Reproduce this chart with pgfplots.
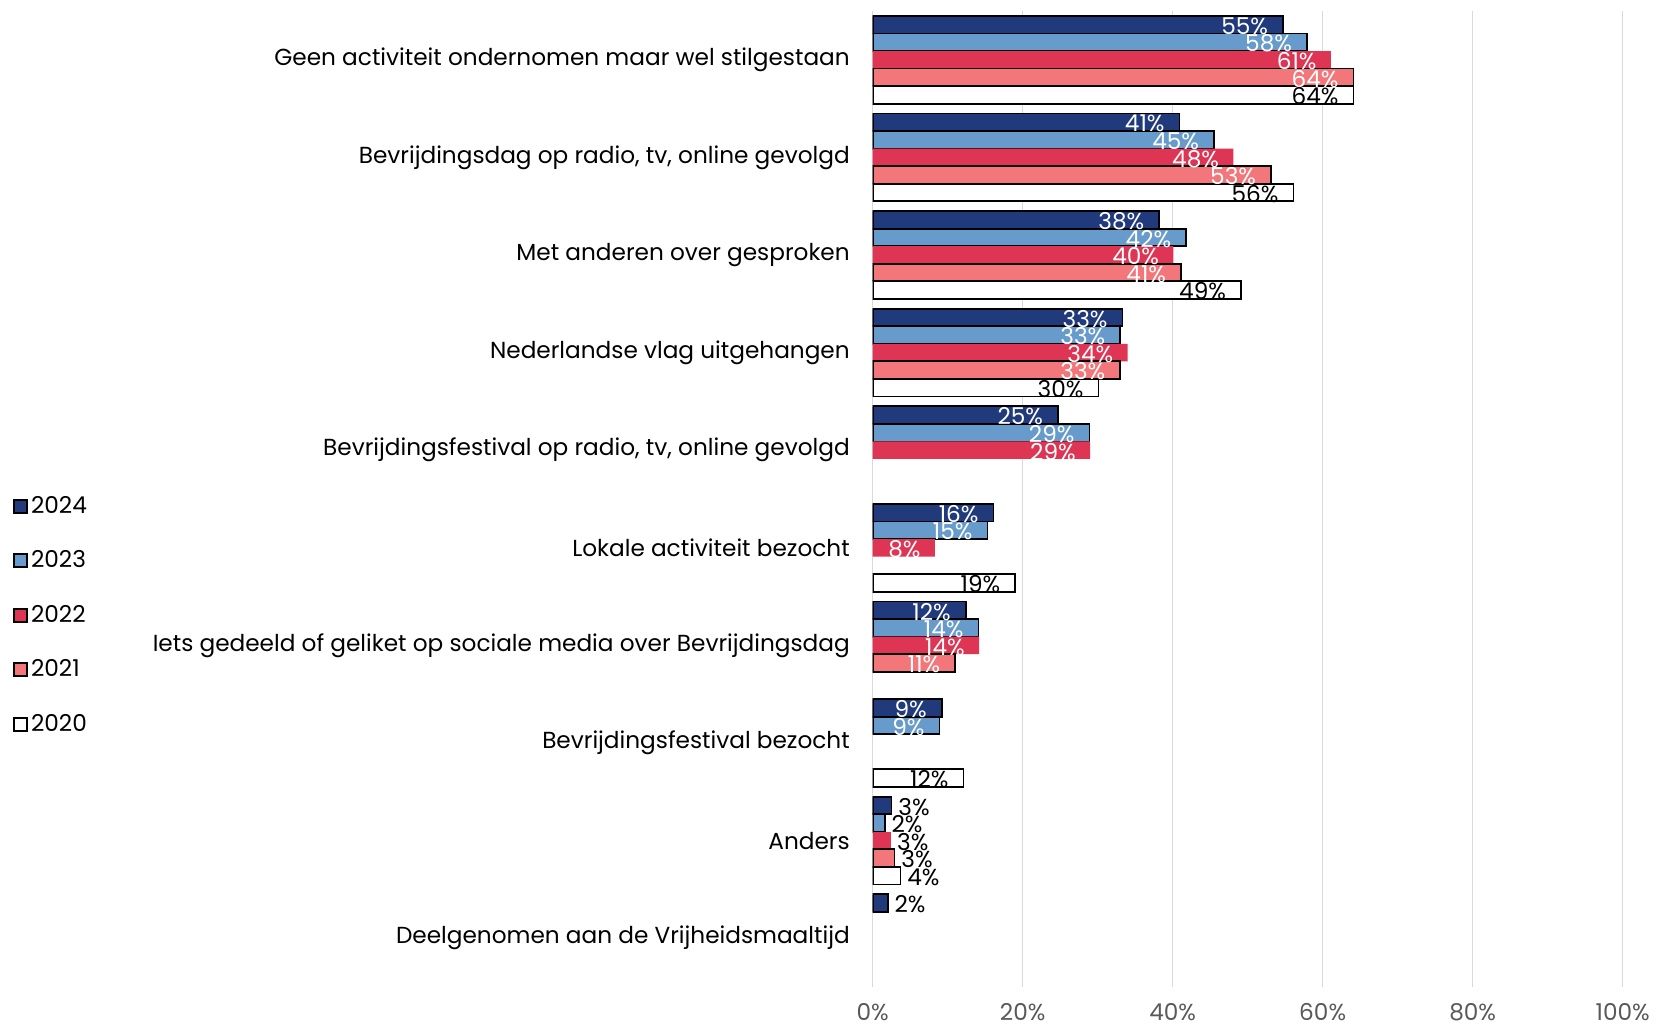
\documentclass[border=0pt]{standalone}
\usepackage{fontspec}
\setmainfont{Poppins}
\usepackage{pgfplots}
\pgfplotsset{compat=1.18}

\definecolor{c24}{RGB}{32,58,124}
\definecolor{c23}{RGB}{102,155,204}
\definecolor{c22}{RGB}{222,53,84}
\definecolor{c21}{RGB}{242,118,122}
\definecolor{gridgray}{RGB}{217,217,217}
\definecolor{tickgray}{RGB}{89,89,89}

\newcommand{\lblfont}{\fontsize{11.6}{11.6}\selectfont}

\pgfplotsset{
  s24/.style={fill=c24, draw=black, line width=0.9pt, bar shift=0.36},
  s23/.style={fill=c23, draw=black, line width=0.9pt, bar shift=0.18},
  s22/.style={fill=c22, draw=none, bar shift=0},
  s21/.style={fill=c21, draw=black, line width=0.9pt, bar shift=-0.18},
  s20/.style={fill=white, draw=black, line width=0.9pt, bar shift=-0.36},
  lin/.style={every node near coord/.append style={anchor=east, inner sep=0pt, xshift=-7pt, yshift=-0.7pt, text=#1}},
  lout/.style={every node near coord/.append style={anchor=west, inner sep=0pt, xshift=3pt, yshift=-0.7pt, text=black}},
}

\begin{document}
\begin{tikzpicture}
\begin{axis}[
  name=ax,
  scale only axis, width=375pt, height=488pt,
  xbar, bar width=0.18,
  xmin=0, xmax=100, ymin=-0.5, ymax=9.5,
  axis line style={draw=none},
  xtick={0,20,40,60,80,100},
  xticklabels={0\%,20\%,40\%,60\%,80\%,100\%},
  xmajorgrids, grid style={line width=0.75pt, gridgray},
  xtick style={draw=none}, ytick style={draw=none},
  xticklabel style={font=\lblfont, text=tickgray, yshift=-4.5pt},
  ytick={0,...,9},
  yticklabels={Deelgenomen aan de Vrijheidsmaaltijd, Anders, Bevrijdingsfestival bezocht,
    Iets gedeeld of geliket op sociale media over Bevrijdingsdag, Lokale activiteit bezocht,
    {Bevrijdingsfestival op radio, tv, online gevolgd}, Nederlandse vlag uitgehangen,
    Met anderen over gesproken, {Bevrijdingsdag op radio, tv, online gevolgd},
    Geen activiteit ondernomen maar wel stilgestaan},
  yticklabel style={font=\lblfont, anchor=east, inner sep=0pt, xshift=-7pt},
  point meta=explicit,
  /pgf/number format/assume math mode=true,
  nodes near coords={\pgfmathprintnumber{\pgfplotspointmeta}\%},
  every node near coord/.append style={font=\lblfont},
  legend style={draw=none, fill=none, inner sep=0pt, at={(-1.1464,0.381)}, anchor=west,
    font=\lblfont, row sep=17.2pt, nodes={inner sep=0pt}},
  legend cell align=left,
  legend image code/.code={\draw[#1, line width=0.9pt] (0pt,-3.25pt) rectangle (6.5pt,3.25pt);},
  /tikz/every odd column/.append style={column sep=1.5pt},
]
\addplot[s24, lin=white] coordinates {
  (54.7,9) [55] (40.9,8) [41] (38.2,7) [38] (33.3,6) [33]
  (24.7,5) [25] (16.1,4) [16] (12.4,3) [12] (9.2,2) [9]};
\addlegendentry{2024}
\addplot[s23, lin=white] coordinates {
  (57.9,9) [58] (45.5,8) [45] (41.8,7) [42] (33.0,6) [33]
  (28.9,5) [29] (15.3,4) [15] (14.1,3) [14] (8.9,2) [9]};
\addlegendentry{2023}
\addplot[s22, lin=white] coordinates {
  (61.1,9) [61] (48.1,8) [48] (40.1,7) [40] (34.0,6) [34]
  (29.0,5) [29] (8.3,4) [8] (14.2,3) [14]};
\addlegendentry{2022}
\addplot[s21, lin=white] coordinates {
  (64.1,9) [64] (53.1,8) [53] (41.1,7) [41] (33.0,6) [33] (11.0,3) [11]};
\addlegendentry{2021}
\addplot[s20, lin=black] coordinates {
  (64.1,9) [64] (56.1,8) [56] (49.1,7) [49] (30.1,6) [30]
  (19.0,4) [19] (12.1,2) [12]};
\addlegendentry{2020}
% small values, labels outside the bar
\addplot[s24, lout, forget plot] coordinates {(2.5,1) [3] (2.0,0) [2]};
\addplot[s23, lout, forget plot] coordinates {(1.6,1) [2]};
\addplot[s22, lout, forget plot] coordinates {(2.4,1) [3]};
\addplot[s21, lout, forget plot] coordinates {(2.9,1) [3]};
\addplot[s20, lout, forget plot] coordinates {(3.7,1) [4]};
\end{axis}
\pgfresetboundingbox
\path[use as bounding box] ([xshift=-436.35pt,yshift=-19.5pt]ax.south west)
  rectangle ([xshift=16.65pt,yshift=5.5pt]ax.north east);
\end{tikzpicture}
\end{document}
